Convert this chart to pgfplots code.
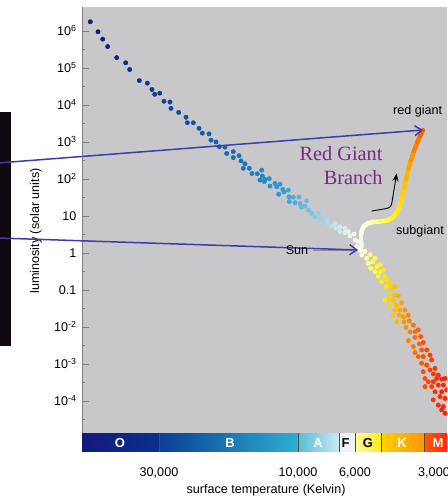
\documentclass[border=0pt]{standalone}
\usepackage{fontspec}
\setmainfont{Liberation Sans}
\newfontfamily\seriffont{Liberation Serif}
\usepackage{pgfplots}
\pgfplotsset{compat=1.18}
\usetikzlibrary{arrows.meta}
\definecolor{bggray}{RGB}{200,200,202}
\definecolor{arrowblue}{RGB}{60,60,170}
\definecolor{rgbpurple}{RGB}{122,40,128}
\definecolor{edgeblack}{RGB}{15,8,14}
\definecolor{sungray}{RGB}{140,140,145}
\definecolor{oA}{RGB}{18,26,125}\definecolor{oB}{RGB}{12,48,140}
\definecolor{bA}{RGB}{10,62,148}\definecolor{bB}{RGB}{45,175,210}
\definecolor{aA}{RGB}{88,188,216}\definecolor{aB}{RGB}{205,232,240}
\definecolor{fA}{RGB}{238,244,246}
\definecolor{gA}{RGB}{255,255,150}\definecolor{gB}{RGB}{255,236,30}
\definecolor{kA}{RGB}{255,208,0}\definecolor{kB}{RGB}{255,150,0}
\definecolor{mA}{RGB}{255,90,0}\definecolor{mB}{RGB}{255,40,10}
\newcommand\fsz{\fontsize{12.6}{15}\selectfont}
\begin{document}
\begin{tikzpicture}[x=1pt,y=1pt]
\path[use as bounding box] (0,0) rectangle (447,500);
\clip (0,0) rectangle (447,500);
\fill[edgeblack] (0,154) rectangle (11,388);
\begin{axis}[
  at={(82pt,493pt)}, anchor=north west,
  width=365pt, height=445pt, scale only axis,
  xmin=0, xmax=365, ymin=-5.378, ymax=6.649,
  axis background/.style={fill=bggray},
  axis y line*=left, axis x line*=bottom,
  x axis line style={draw=none},
  y axis line style={draw=gray, line width=0.8pt},
  tick align=inside,
  xtick={77,216,273,352},
  xticklabels={{30,000},{10,000},{6,000},{3,000}},
  xtick style={draw=none},
  ytick={-4,-3,...,6},
  yticklabels={10\textsuperscript{-4},10\textsuperscript{-3},10\textsuperscript{-2},0.1,1,10,10\textsuperscript{2},10\textsuperscript{3},10\textsuperscript{4},10\textsuperscript{5},10\textsuperscript{6}},
  minor ytick={-4.5,-3.5,...,5.5},
  ytick style={draw=gray, line width=0.7pt},
  major tick length=6.6pt, minor tick length=3.3pt,
  tick label style={font=\fsz},
  xticklabel style={anchor=base, inner sep=0pt, yshift=-24.5pt},
  yticklabel style={anchor=base east, inner sep=0pt, xshift=-5.3pt, yshift=-4.5pt},
  point meta min=0, point meta max=365,
  colormap={hr}{rgb255(0pt)=(12,28,125); rgb255(20pt)=(12,32,130); rgb255(60pt)=(14,50,145);
    rgb255(110pt)=(18,80,165); rgb255(160pt)=(25,115,185); rgb255(200pt)=(50,155,210);
    rgb255(225pt)=(110,190,225); rgb255(250pt)=(190,222,235); rgb255(268pt)=(240,242,242);
    rgb255(280pt)=(255,255,230); rgb255(290pt)=(255,255,90); rgb255(300pt)=(255,240,20);
    rgb255(310pt)=(255,205,0); rgb255(320pt)=(255,160,0); rgb255(330pt)=(255,120,0);
    rgb255(340pt)=(255,85,0); rgb255(352pt)=(255,50,0); rgb255(365pt)=(255,30,0)},
]
% spectral class band
\fill[left color=oA, right color=oB] (axis cs:0,-5.378) rectangle (axis cs:77,-4.865);
\fill[left color=bA, right color=bB] (axis cs:77,-5.378) rectangle (axis cs:216,-4.865);
\fill[left color=aA, right color=aB] (axis cs:216,-5.378) rectangle (axis cs:257,-4.865);
\fill[fA] (axis cs:257,-5.378) rectangle (axis cs:273,-4.865);
\fill[left color=gA, right color=gB] (axis cs:273,-5.378) rectangle (axis cs:299,-4.865);
\fill[left color=kA, right color=kB] (axis cs:299,-5.378) rectangle (axis cs:342,-4.865);
\fill[left color=mA, right color=mB] (axis cs:342,-5.378) rectangle (axis cs:365,-4.865);
\foreach \xx in {77,216,257,273,299,342} {
  \edef\temp{\noexpand\draw[black!70, line width=0.5pt] (axis cs:\xx,-5.378) -- (axis cs:\xx,-4.865);}
  \temp
}
% main sequence stars
\addplot[scatter, only marks, mark=*, mark size=2.2pt, point meta=x,
  scatter/use mapped color={draw=mapped color, fill=mapped color}] coordinates {
(8.3,6.25)(16,5.98)(20.7,5.78)(25.7,5.58)(34.7,5.28)(43.7,5.14)(47.7,4.96)(57.3,4.66)(65.3,4.59)(70,4.42)(72.7,4.29)(77.7,4.32)(82,4.10)(88,4.08)(89,3.91)(96.7,3.80)(104,3.67)(105.3,3.52)(111.3,3.52)(117,3.37)(120.3,3.24)(127,3.22)
(129,3.05)(134,3.00)(137.3,2.87)(143,2.86)(144.7,2.69)(151.3,2.74)(151.3,2.58)(157,2.63)(159,2.49)(163,2.41)(161.3,2.29)(167.3,2.29)(170,2.15)(175.3,2.14)(179.7,2.24)(180.3,2.08)(178,1.97)(183,1.99)(187.3,2.01)(182.3,1.93)(188,1.81)(193,1.88)(194.7,1.79)(198,1.86)(200.7,1.72)(196.7,1.59)(202,1.65)(206.3,1.70)(207,1.52)(207.3,1.39)(211.3,1.51)(213,1.36)(217,1.51)(218,1.34)(219.7,1.24)(223,1.27)(224.7,1.41)(226.3,1.16)
(229.7,1.07)(233,0.98)(236.3,1.07)(238,0.94)(240.7,0.86)(244.7,0.91)(246.3,0.80)(249.7,0.73)(253,0.80)(254,0.67)(258,0.71)(258,0.58)(263,0.67)(263,0.55)(266.3,0.58)(268,0.46)(272,0.51)(273,0.35)(276.3,0.31)(274.7,0.17)(278,0.08)(279.7,-0.05)(283,0.04)(284.7,-0.14)(288,-0.05)(286.3,-0.28)(290.7,-0.24)(293,-0.14)(288.7,-0.41)(294.7,-0.37)(298,-0.32)(293,-0.51)(298,-0.51)(301.3,-0.46)(296.3,-0.64)(303,-0.64)(299.7,-0.78)(304.7,-0.73)(308,-0.82)(304,-0.91)(309.7,-0.95)(313,-0.91)(308,-1.09)(313,-1.14)
(316.3,-1.16)(303,-1.27)(308,-1.27)(312,-1.27)(319.7,-1.34)(314.7,-1.41)(308,-1.43)(313,-1.54)(318,-1.54)(323,-1.54)(311.3,-1.68)(317.3,-1.68)(314.7,-1.86)(321.3,-1.72)(326.3,-1.68)(322,-1.86)(327.3,-1.83)(331.3,-1.95)(324,-2.01)(328,-2.13)(333,-2.13)(336.3,-2.08)(338.7,-2.26)(333,-2.28)(326.3,-2.37)(331.3,-2.53)(337.3,-2.46)(341.3,-2.42)(344.7,-2.62)(339.7,-2.62)(333,-2.69)(336.3,-2.80)(341.3,-2.80)(348,-2.76)(349.7,-2.89)(344.7,-3.03)(339.7,-2.98)(341.3,-3.21)(348,-3.16)(353,-3.12)(356.3,-3.30)(351.3,-3.27)(343,-3.39)(346.3,-3.48)(351.3,-3.48)(354.7,-3.39)(359.7,-3.41)(363,-3.39)(343,-3.61)(349.7,-3.61)(356.3,-3.57)(361.3,-3.57)(353,-3.75)(359.7,-3.75)(364.7,-3.70)(351.3,-3.97)(358,-3.88)(363,-3.93)(356.3,-4.11)(361.3,-4.15)(363,-4.33)(359.7,-4.24)
};
% red giant branch track
\addplot[mesh, point meta=explicit, line width=4.5pt, line cap=round, line join=round] coordinates {
(279,0.08) [272] (279.5,0.22) [272] (279,0.35) [272] (279,0.49) [273] (280,0.62) [274] (282,0.73) [276] (286,0.80) [279] (291,0.84) [283] (298,0.85) [288] (305,0.88) [293] (311,0.96) [298] (315,1.11) [301] (318,1.30) [304] (320,1.51) [307] (322,1.76) [310] (324,2.00) [313] (326.5,2.27) [317] (329,2.51) [321] (332,2.76) [326] (335.5,3.00) [330] (338.5,3.19) [334] (341,3.32) [338]
};
\end{axis}
% band letters
\foreach \xx/\ll/\cc in {120/O/white,230/B/white,318/A/white,345.7/F/black,368/G/black,402/K/white,438/M/white} {
  \node[anchor=base, inner sep=0pt, text=\cc, font=\bfseries\fontsize{13}{15}\selectfont] at (\xx,52.1) {\ll};
}
% axis labels
\node[rotate=90, anchor=base, font=\fsz] at (39,269) {luminosity (solar units)};
\node[anchor=base, font=\fsz] at (266,6.5) {surface temperature (Kelvin)};
% annotations
\draw[sungray, line width=1.6pt] (313,249.3) -- (352,249.3);
\draw[arrowblue, line width=1.5pt, -{Straight Barb[length=7pt,width=10pt]}] (-2,337) -- (423,370);
\draw[arrowblue, line width=1.5pt, -{Straight Barb[length=7pt,width=10pt]}] (-2,262) -- (358,250);
\node[anchor=base, font=\fsz] at (297,245) {Sun};
\node[anchor=base, font=\fsz] at (417.7,385.3) {red giant};
\node[anchor=base, font=\fsz] at (420,265.7) {subgiant};
\node[anchor=base east, inner sep=0pt, text=rgbpurple, font=\seriffont\fontsize{20.3}{24}\selectfont] at (382.7,339) {Red Giant};
\node[anchor=base east, inner sep=0pt, text=rgbpurple, font=\seriffont\fontsize{20.3}{24}\selectfont] at (382.7,315) {Branch};
\draw[black, line width=0.9pt, -{Stealth[length=8pt,width=6pt]}] (371.7,289) -- (386,291.4) .. controls (390,292) and (391.5,294) .. (392,298) -- (396.7,326.7);
\end{tikzpicture}
\end{document}
